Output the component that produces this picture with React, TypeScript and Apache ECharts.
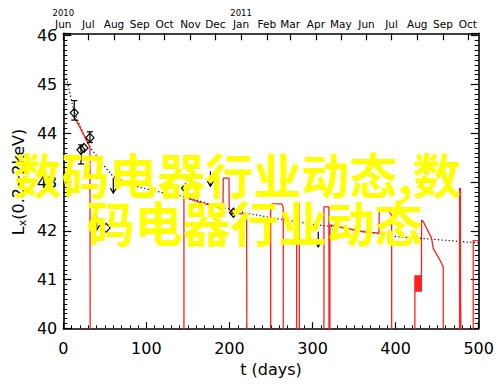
import React, { useEffect, useRef } from "react";
import * as echarts from "echarts";

// Top axis: month starts (days since 2010 Jun 1) and names
const monthDays = [0, 30, 61, 92, 122, 153, 183, 214, 245, 273, 304, 334, 365, 395, 426, 457, 487];
const monthNames = ["Jun", "Jul", "Aug", "Sep", "Oct", "Nov", "Dec", "Jan", "Feb", "Mar", "Apr", "May", "Jun", "Jul", "Aug", "Sep", "Oct"];
const yearAtMonth: Record<number, string> = { 0: "2010", 214: "2011" };

// Detections: [day, Lx, low, high]
const detections = [
  [13.2, 44.42, 44.27, 44.67],
  [32.1, 43.91, 43.81, 44.03],
  [21.3, 43.66, 43.37, 43.76],
  [24.9, 43.7, 43.7, 43.7],
  [51.5, 42.06, 42.06, 42.06],
  [147.1, 42.87, 42.84, 42.9],
  [204.8, 42.37, 42.35, 42.39],
];

// Upper limits: [day, Lx]
const upperLimits = [
  [40.2, 42.32],
  [60.2, 43.08],
  [177.1, 43.22],
  [306.9, 41.98],
];

// Power-law decline (dotted)
const powerLaw = [
  [3.9, 45.13], [5.7, 44.99], [12.9, 44.44], [30.1, 43.76], [50.2, 43.31], [60.2, 43.11],
  [90.3, 42.9], [122.4, 42.77], [146.5, 42.7], [180.1, 42.53], [220.7, 42.36], [260.8, 42.24],
  [300.5, 42.13], [329.0, 42.08], [401.2, 41.88], [441.3, 41.83], [493.0, 41.76], [500, 41.75],
];

// Model light curve (red); 39 = zero flux, below the axis
const modelCurve = [
  [14.1, 44.31], [32.1, 43.72], [32.4, 39],
  [145.2, 39], [145.2, 42.69], [166.5, 42.57], [192.2, 42.45], [192.6, 43.08], [199.4, 43.08], [199.8, 42.43], [205.4, 42.36], [220.7, 42.34], [221.0, 39],
  [249.6, 39], [249.6, 42.47], [251.1, 42.55], [263.2, 42.55], [264.7, 42.47], [264.8, 39],
  [280.9, 39], [280.9, 42.57], [284.0, 42.57], [284.1, 39],
  [313.7, 39], [313.7, 42.49], [319.7, 42.49], [319.8, 39],
  [320.9, 39], [320.9, 42.12], [360.6, 41.98], [379.9, 41.95], [380.3, 42.42], [390.7, 42.42], [395.2, 42.32], [395.3, 39],
  [423.2, 39], [423.2, 41.09], [423.8, 40.75], [424.4, 41.09], [425.0, 40.75], [425.6, 41.09], [426.2, 40.75], [426.8, 41.09],
  [427.4, 40.75], [428.0, 41.09], [428.6, 40.75], [429.2, 41.09], [429.8, 40.75], [430.4, 41.09], [431.0, 40.75], [431.3, 40.75],
  [431.3, 42.22], [433.2, 42.19], [443.3, 41.85], [445.2, 41.64], [453.3, 41.4], [457.3, 41.26], [457.4, 39],
  [477.0, 39], [477.0, 42.87], [478.0, 42.87], [478.2, 40.66], [479.0, 40.66], [479.1, 39],
  [493.4, 39], [493.4, 41.8], [500, 41.8],
];

const watermarkLine1 = "数码电器行业动态,数";
const watermarkLine2 = "码电器行业动态";

const FONT = "DejaVu Sans";

export default function App() {
  const ref = useRef<HTMLDivElement>(null);
  useEffect(() => {
    document.body.style.margin = "0";
    const chart = echarts.init(ref.current!, null, { renderer: "svg" });
    const axisLine = { show: true, lineStyle: { color: "#000", width: 1.6 } };
    const yBase = { type: "value", min: 40, max: 46.05, splitLine: { show: false } };
    const isInt = (v: number) => Math.abs(v - Math.round(v)) < 1e-6;
    chart.setOption({
      animation: false,
      backgroundColor: "#fff",
      grid: { left: 63.3, right: 21.3, top: 33.3, bottom: 56.7 },
      xAxis: [
        {
          type: "value", position: "bottom", min: 0, max: 500, interval: 100,
          axisLine,
          axisTick: { inside: true, length: 6, lineStyle: { color: "#000", width: 1.2 } },
          minorTick: { show: true, splitNumber: 10, length: 3, lineStyle: { color: "#000", width: 1 } },
          axisLabel: { color: "#000", fontSize: 16, fontFamily: FONT, margin: 12 },
          splitLine: { show: false }, minorSplitLine: { show: false },
        },
        {
          type: "value", position: "top", min: 0, max: 500,
          axisLine,
          axisTick: { inside: true, length: 7, customValues: monthDays, lineStyle: { color: "#000", width: 1.2 } },
          axisLabel: {
            customValues: monthDays, margin: 3, color: "#000", fontFamily: FONT,
            formatter: (v: number) => {
              const i = monthDays.indexOf(Math.round(v));
              if (i < 0) return "";
              const y = yearAtMonth[monthDays[i]];
              return y ? `{y|${y}}\n{m|${monthNames[i]}}` : `{m|${monthNames[i]}}`;
            },
            rich: {
              y: { fontSize: 8.5, fontFamily: FONT, color: "#000", lineHeight: 11 },
              m: { fontSize: 10.5, fontFamily: FONT, color: "#000", lineHeight: 12 },
            },
          },
          splitLine: { show: false },
        },
      ],
      yAxis: [
        {
          ...yBase, position: "left", interval: 0.1, axisLine,
          axisTick: { inside: true, length: 4, lineStyle: { color: "#000", width: 1 } },
          axisLabel: {
            color: "#000", fontSize: 16, fontFamily: FONT, margin: 6,
            formatter: (v: number) => (isInt(v) ? String(Math.round(v)) : ""),
          },
        },
        {
          ...yBase, position: "left", interval: 1, axisLine: { show: false },
          axisTick: { inside: true, length: 8, lineStyle: { color: "#000", width: 1.2 } },
          axisLabel: { show: false },
        },
        {
          ...yBase, position: "right", interval: 0.1, axisLine,
          axisTick: { inside: true, length: 4, lineStyle: { color: "#000", width: 1 } },
          axisLabel: { show: false },
        },
        {
          ...yBase, position: "right", interval: 1, axisLine: { show: false },
          axisTick: { inside: true, length: 8, lineStyle: { color: "#000", width: 1.2 } },
          axisLabel: { show: false },
        },
      ],
      series: [
        {
          type: "line", data: powerLaw, showSymbol: false, smooth: false, z: 2,
          lineStyle: { color: "#000", width: 1.2, type: [1.2, 2.4] },
        },
        {
          type: "line", data: modelCurve, showSymbol: false, z: 3, clip: true,
          lineStyle: { color: "#ff2020", width: 1.3 },
        },
        {
          type: "custom", data: detections, z: 4,
          encode: { x: 0, y: [1, 2, 3] },
          renderItem: (params: any, api: any) => {
            const p = api.coord([api.value(0), api.value(1)]);
            const lo = api.coord([api.value(0), api.value(2)]);
            const hi = api.coord([api.value(0), api.value(3)]);
            const st = { stroke: "#000", lineWidth: 1.2, fill: "none" };
            const children: any[] = [];
            if (Math.abs(lo[1] - hi[1]) > 1) {
              children.push(
                { type: "line", shape: { x1: p[0], y1: lo[1], x2: p[0], y2: hi[1] }, style: st },
                { type: "line", shape: { x1: p[0] - 3, y1: lo[1], x2: p[0] + 3, y2: lo[1] }, style: st },
                { type: "line", shape: { x1: p[0] - 3, y1: hi[1], x2: p[0] + 3, y2: hi[1] }, style: st },
              );
            }
            children.push({
              type: "polygon",
              shape: { points: [[p[0], p[1] - 4.5], [p[0] + 4, p[1]], [p[0], p[1] + 4.5], [p[0] - 4, p[1]]] },
              style: st,
            });
            return { type: "group", children };
          },
        },
        {
          type: "custom", data: upperLimits, z: 4,
          encode: { x: 0, y: 1 },
          renderItem: (params: any, api: any) => {
            const p = api.coord([api.value(0), api.value(1)]);
            const len = 15;
            const st = { stroke: "#000", lineWidth: 1.2, fill: "none" };
            return {
              type: "group",
              children: [
                { type: "line", shape: { x1: p[0], y1: p[1], x2: p[0], y2: p[1] + len }, style: st },
                { type: "polyline", shape: { points: [[p[0] - 3, p[1] + len - 5], [p[0], p[1] + len], [p[0] + 3, p[1] + len - 5]] }, style: st },
              ],
            };
          },
        },
      ],
      graphic: [
        {
          type: "text", x: 18, y: 182, rotation: Math.PI / 2, z: 10,
          style: {
            text: "{a|L}{b|x}{a|(0.2−2keV)}",
            align: "center", verticalAlign: "middle",
            rich: {
              a: { fontSize: 16, fontFamily: FONT, fill: "#000", color: "#000", lineHeight: 20 },
              b: { fontSize: 11, fontFamily: FONT, fill: "#000", color: "#000", lineHeight: 12, verticalAlign: "bottom" },
            },
          },
        },
        {
          type: "text", x: 271, y: 369, z: 10,
          style: { text: "t (days)", fontSize: 16, fontFamily: FONT, fill: "#000", align: "center", verticalAlign: "middle" },
        },
        {
          type: "text", x: 13.5, y: 173, z: 100,
          style: { text: watermarkLine1, fontSize: 48, fontWeight: "bold", fontFamily: "Noto Sans CJK SC", fill: "#ffff00", align: "left", verticalAlign: "middle" },
        },
        {
          type: "text", x: 86.8, y: 221, z: 100,
          style: { text: watermarkLine2, fontSize: 48, fontWeight: "bold", fontFamily: "Noto Sans CJK SC", fill: "#ffff00", align: "left", verticalAlign: "middle" },
        },
      ],
    });
    return () => chart.dispose();
  }, []);
  return <div ref={ref} style={{ width: 500, height: 385 }} />;
}
